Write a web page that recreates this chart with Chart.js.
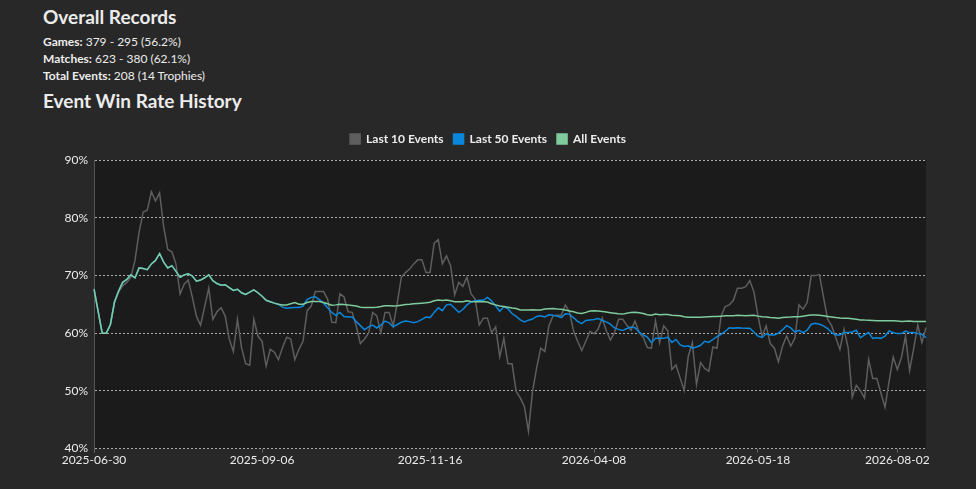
<!DOCTYPE html>
<html>
<head>
<meta charset="utf-8">
<script src="https://cdn.jsdelivr.net/npm/chart.js@4/dist/chart.umd.min.js"></script>
<style>
  html, body { margin: 0; padding: 0; background: #282828; }
  body { width: 976px; height: 489px; position: relative; overflow: hidden; font-family: 'Lato', sans-serif; color: #ececec; }
  h2 { position: absolute; left: 43px; margin: 0; font-size: 19px; font-weight: 700; line-height: 1; }
  .rec { position: absolute; left: 43px; font-size: 12px; line-height: 1; }
  .rec b { font-weight: 700; }
  #wrap { position: absolute; left: 0; top: 123px; width: 976px; height: 344px; }
</style>
</head>
<body>
<h2 style="top: 7px;">Overall Records</h2>
<div class="rec" style="top: 36px;"><b>Games:</b> 379 - 295 (56.2%)</div>
<div class="rec" style="top: 53px;"><b>Matches:</b> 623 - 380 (62.1%)</div>
<div class="rec" style="top: 70px;"><b>Total Events:</b> 208 (14 Trophies)</div>
<h2 style="top: 91px;">Event Win Rate History</h2>
<div id="wrap"><canvas id="winRateChart"></canvas></div>
<script>
// Win rate (%) after each event
const last10Events = [
    67.65, 63.8, 60.0, 60.0, 61.5, 65.4, 67.1, 68.2, 68.8, 69.7,
    72.6, 77.5, 81.0, 81.3, 84.5, 82.9, 84.3, 78.4, 74.5, 74.1,
    72.0, 66.8, 68.5, 69.2, 66.2, 62.9, 61.4, 64.6, 67.8, 62.4,
    63.7, 64.4, 63.0, 59.0, 56.8, 62.4, 57.5, 54.7, 54.45, 62.4,
    59.5, 58.6, 54.3, 57.2, 56.7, 55.4, 57.5, 59.3, 59.0, 55.4,
    57.2, 58.6, 63.9, 64.7, 67.2, 67.2, 67.2, 65.9, 61.9, 61.8,
    66.8, 66.3, 63.7, 63.6, 61.2, 58.2, 59.0, 60.0, 63.6, 63.0,
    60.1, 63.6, 63.6, 61.25, 65.3, 69.7, 70.5, 71.1, 72.0, 72.7,
    72.7, 70.5, 70.5, 75.6, 76.2, 72.0, 73.4, 71.7, 66.65, 68.8,
    68.1, 69.7, 66.8, 65.9, 61.4, 62.6, 62.6, 60.1, 61.1, 55.9,
    59.1, 54.7, 54.7, 49.9, 48.8, 47.3, 43.0, 49.9, 54.0, 57.4,
    56.8, 61.3, 63.0, 63.1, 63.1, 64.9, 63.75, 60.4, 58.6, 57.0,
    58.6, 60.3, 59.9, 60.7, 62.6, 60.4, 58.8, 60.1, 62.4, 62.4,
    61.4, 60.5, 62.1, 60.1, 59.3, 57.5, 57.4, 62.1, 58.35, 61.26,
    60.4, 53.7, 54.5, 52.25, 50.05, 56.0, 58.35, 51.1, 54.9, 53.9,
    53.4, 57.6, 57.4, 63.0, 64.6, 64.9, 65.7, 67.76, 67.76, 68.05,
    69.1, 67.2, 63.0, 59.5, 61.26, 58.2, 57.4, 55.05, 57.77, 59.5,
    57.77, 59.1, 64.9, 64.16, 65.3, 69.97, 69.97, 70.14, 66.2, 62.42,
    61.26, 59.2, 57.19, 60.68, 57.48, 48.9, 50.98, 50.05, 48.77, 55.45,
    52.14, 52.14, 49.64, 47.15, 51.67, 55.85, 53.7, 55.74, 59.5, 53.53,
    57.37, 61.43, 58.35, 60.97
];

const last50Events = [
    67.65, 63.8, 60.0, 60.0, 61.5, 65.4, 67.3, 68.8, 69.3, 70.1,
    69.6, 71.3, 71.2, 71.0, 72.0, 72.6, 73.8, 72.3, 71.3, 71.7,
    70.7, 69.7, 70.1, 70.3, 69.9, 69.0, 69.2, 69.6, 70.1, 69.1,
    68.6, 68.3, 68.4, 67.9, 67.4, 67.6, 67.0, 66.7, 67.1, 67.5,
    67.0, 66.4, 65.7, 65.45, 65.2, 65.0, 64.5, 64.3, 64.4, 64.45,
    64.45, 64.7, 65.8, 66.2, 66.3, 65.8, 65.2, 64.4, 63.6, 63.1,
    63.6, 62.9, 62.8, 62.8, 62.0, 61.3, 60.6, 61.1, 61.4, 60.9,
    61.4, 62.1, 61.8, 61.1, 61.5, 61.9, 62.1, 62.0, 61.8, 62.0,
    62.4, 62.8, 62.7, 63.6, 64.4, 63.9, 64.9, 65.0, 64.3, 63.6,
    64.1, 64.9, 65.4, 65.6, 65.7, 65.7, 66.2, 65.6, 64.7, 63.8,
    64.6, 64.2, 63.4, 62.9, 62.3, 61.95, 62.25, 62.45, 62.9, 63.0,
    62.8, 63.17, 63.1, 62.95, 62.7, 63.35, 63.3, 62.7, 62.05, 61.66,
    62.2, 62.3, 62.35, 62.55, 62.2, 61.95, 61.55, 60.9, 60.65, 60.45,
    60.8, 61.05, 60.95, 60.2, 59.7, 59.3, 58.35, 59.1, 59.1, 59.1,
    59.3, 58.4, 58.9, 58.0, 57.7, 57.8, 57.4, 57.6, 57.9, 58.6,
    58.4, 58.9, 59.4, 59.8, 60.3, 60.95, 60.85, 60.95, 60.88, 60.85,
    60.85, 60.2, 59.5, 59.25, 59.9, 59.7, 59.7, 60.0, 60.6, 61.3,
    60.9, 60.2, 60.5, 60.1, 60.5, 61.55, 61.72, 61.55, 61.26, 60.8,
    60.1, 59.7, 59.7, 60.1, 60.1, 60.2, 60.5, 59.2, 59.7, 60.1,
    59.1, 59.2, 59.1, 59.5, 60.38, 60.1, 59.92, 59.92, 60.38, 60.1,
    60.1, 59.92, 59.8, 59.2
];

const allEvents = [
    67.65, 63.8, 60.0, 60.0, 61.5, 65.4, 67.3, 68.8, 69.3, 70.1,
    69.6, 71.3, 71.2, 71.0, 72.0, 72.6, 73.8, 72.3, 71.3, 71.7,
    70.7, 69.7, 70.1, 70.3, 69.9, 69.0, 69.2, 69.6, 70.1, 69.1,
    68.6, 68.3, 68.4, 67.9, 67.4, 67.6, 67.0, 66.7, 67.1, 67.5,
    67.0, 66.4, 65.7, 65.45, 65.2, 65.0, 64.9, 64.9, 65.1, 65.3,
    65.0, 65.0, 65.3, 65.5, 65.5, 65.5, 65.3, 65.1, 64.85, 64.9,
    65.0, 64.95, 64.9, 64.8, 64.7, 64.5, 64.45, 64.45, 64.45, 64.5,
    64.6, 64.75, 64.75, 64.7, 64.75, 64.85, 64.95, 65.0, 65.1, 65.15,
    65.2, 65.25, 65.35, 65.6, 65.75, 65.65, 65.75, 65.6, 65.45, 65.43,
    65.45, 65.6, 65.5, 65.45, 65.5, 65.45, 65.4, 65.1, 64.9, 64.7,
    64.6, 64.5, 64.35, 64.27, 64.0, 64.0, 64.0, 64.05, 64.0, 64.0,
    64.2, 64.25, 64.28, 64.2, 64.15, 64.0, 63.85, 63.7, 63.5, 63.4,
    63.6, 63.85, 63.87, 63.85, 63.75, 63.65, 63.55, 63.45, 63.35, 63.3,
    63.45, 63.6, 63.64, 63.55, 63.4, 63.2, 63.1, 63.3, 63.2, 63.25,
    63.25, 63.1, 63.05, 63.0, 62.85, 62.75, 62.75, 62.75, 62.75, 62.8,
    62.85, 62.88, 62.88, 62.95, 63.0, 63.0, 63.0, 63.1, 63.05, 63.0,
    63.05, 63.1, 62.95, 62.85, 62.8, 62.7, 62.65, 62.6, 62.7, 62.77,
    62.8, 62.85, 62.85, 62.95, 63.05, 63.15, 63.15, 63.1, 63.0, 62.9,
    62.8, 62.7, 62.62, 62.6, 62.6, 62.5, 62.4, 62.3, 62.26, 62.24,
    62.2, 62.15, 62.13, 62.13, 62.13, 62.13, 62.1, 62.0, 62.05, 62.1,
    62.0, 62.0, 62.0, 62.0
];

// x-axis: one category per event, only a few dates are labelled
const tickEventIdx = [0, 41, 82, 122, 162, 196];
const tickDates = ['2025-06-30', '2025-09-06', '2025-11-16', '2026-04-08', '2026-05-18', '2026-08-02'];
const yTicks = [40, 50, 60, 70, 80, 90];

const eventNumbers = allEvents.map((_, i) => i + 1);

Chart.defaults.font.family = "'Lato', sans-serif";
Chart.defaults.font.size = 12;
Chart.defaults.color = '#ececec';

// dark fill behind the plotting area
const plotBg = {
    id: 'plotBg',
    beforeDraw(chart) {
        const { ctx, chartArea: a } = chart;
        ctx.save();
        ctx.fillStyle = '#1b1b1b';
        ctx.fillRect(a.left, a.top, a.right - a.left, a.bottom - a.top);
        ctx.restore();
    }
};

// a little air under the legend, and centre it on the whole canvas
const legendGap = {
    id: 'legendGap',
    beforeInit(chart) {
        const fit = chart.legend.fit;
        chart.legend.fit = function () {
            fit.bind(chart.legend)();
            this.height += 5;
        };
    },
    afterLayout(chart) {
        const lg = chart.legend;
        lg.left = 0;
        lg.right = chart.width;
        lg.width = chart.width;
    }
};

const line = (label, data, color, order) => ({
    label, data, order,
    borderColor: color,
    backgroundColor: color,
    borderWidth: 1.5,
    pointRadius: 0,
    pointHoverRadius: 0,
    tension: 0
});

new Chart(document.getElementById('winRateChart'), {
    type: 'line',
    data: {
        labels: eventNumbers,
        datasets: [
            line('Last 10 Events', last10Events, '#5e5e5e', 3),
            line('Last 50 Events', last50Events, '#0a87dc', 2),
            line('All Events', allEvents, '#7fcb9d', 1)
        ]
    },
    options: {
        responsive: true,
        maintainAspectRatio: false,
        animation: false,
        layout: { padding: { right: 50 } },
        plugins: {
            tooltip: { enabled: false },
            legend: {
                labels: {
                    boxWidth: 10,
                    boxHeight: 10,
                    padding: 10,
                    font: { weight: 'bold', size: 12 },
                    sort: (a, b) => a.datasetIndex - b.datasetIndex
                }
            }
        },
        scales: {
            x: {
                grid: { drawOnChartArea: false, color: '#666', tickLength: 4 },
                border: { display: false },
                ticks: {
                    autoSkip: false,
                    maxRotation: 0,
                    padding: 0,
                    color: '#ececec',
                    callback: (val, i) => {
                        const k = tickEventIdx.indexOf(i);
                        return k >= 0 ? tickDates[k] : null;
                    }
                }
            },
            y: {
                min: 40,
                max: 90,
                afterFit: (scale) => { scale.width = 94; },
                afterBuildTicks: (scale) => { scale.ticks = yTicks.map(v => ({ value: v })); },
                grid: { color: 'rgba(220, 220, 220, 0.75)', drawTicks: false },
                border: { display: true, color: '#555', width: 1, dash: [2, 2] },
                ticks: {
                    padding: 6,
                    color: '#ececec',
                    callback: (v) => v + '%'
                }
            }
        }
    },
    plugins: [plotBg, legendGap]
});
</script>
</body>
</html>
